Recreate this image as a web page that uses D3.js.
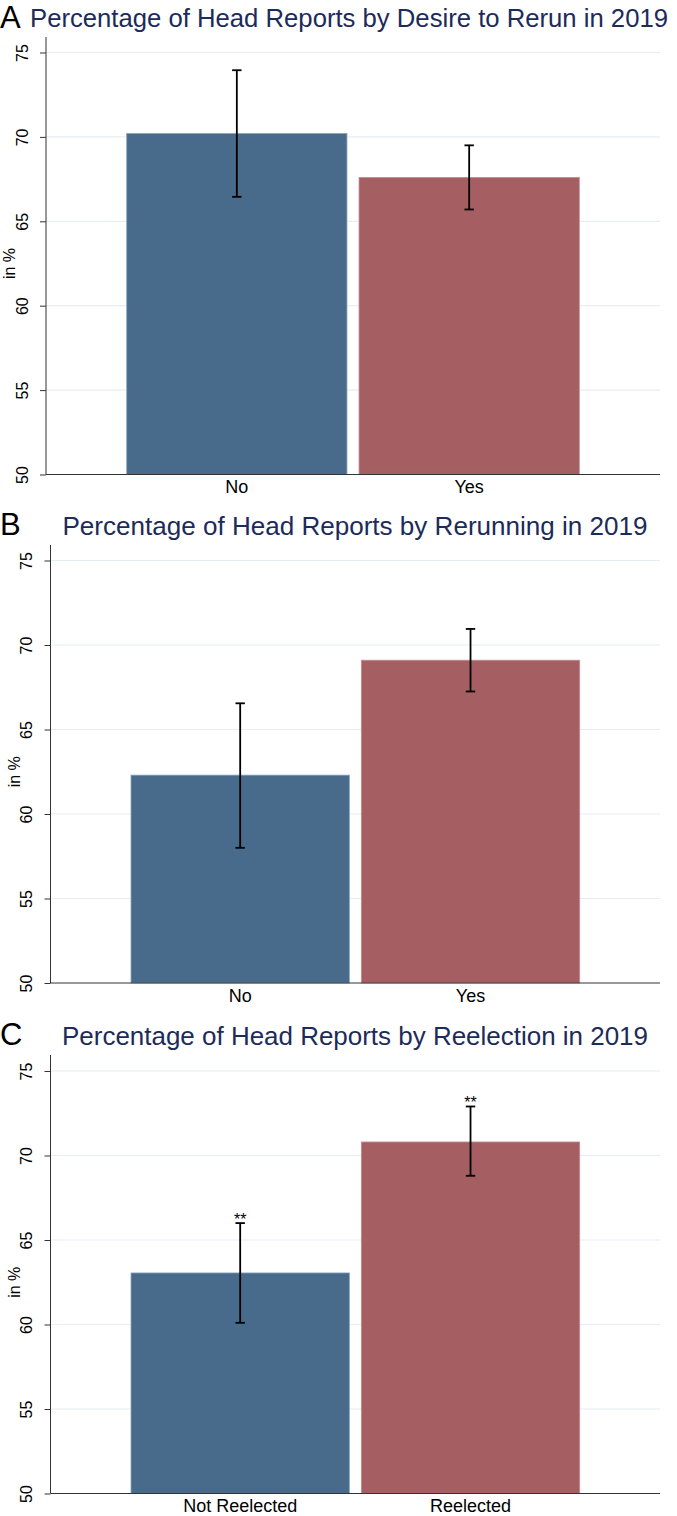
<!DOCTYPE html>
<html><head><meta charset="utf-8">
<script src="https://cdn.jsdelivr.net/npm/d3@7"></script>
<style>html,body{margin:0;padding:0;background:#fff;} svg{display:block;font-family:"Liberation Sans",Arial,Helvetica,sans-serif;}</style>
</head><body>
<svg id="chart" width="677" height="1516"></svg>
<script>
// ---- data ----
const panelLetters = ["A", "B", "C"];
const titles = [
  "Percentage of Head Reports by Desire to Rerun in 2019",
  "Percentage of Head Reports by Rerunning in 2019",
  "Percentage of Head Reports by Reelection in 2019"
];
const categoriesA = ["No", "Yes"];
const categoriesB = ["No", "Yes"];
const categoriesC = ["Not Reelected", "Reelected"];
const meansA = [70.2, 67.6];
const lowA = [66.45, 65.7];
const highA = [73.95, 69.5];
const meansB = [62.3, 69.1];
const lowB = [58.0, 67.25];
const highB = [66.55, 70.95];
const meansC = [63.05, 70.8];
const lowC = [60.1, 68.8];
const highC = [66.0, 72.9];
const starsA = ["", ""];
const starsB = ["", ""];
const starsC = ["**", "**"];
const yTicks = [50, 55, 60, 65, 70, 75];
const yLabel = "in %";
const barColors = ["#486b8b", "#a55e61"];
const barStrokes = ["#8aa3b9", "#c28e90"];

const panels = [
  {letter: panelLetters[0], title: titles[0], cats: categoriesA, means: meansA, low: lowA, high: highA, stars: starsA,
   layout: {axisX: 46, axisTop: 37, y75: 52.5, y50: 474.5, x0: 126.7, x1: 579.3, titleX: 30, titleLen: 638, titleY: 27, letterY: 28, ylabX: 15}},
  {letter: panelLetters[1], title: titles[1], cats: categoriesB, means: meansB, low: lowB, high: highB, stars: starsB,
   layout: {axisX: 50.5, axisTop: 545, y75: 560.5, y50: 983, x0: 131, x1: 579.7, titleX: 62.5, titleLen: 585, titleY: 535, letterY: 535, ylabX: 19.5}},
  {letter: panelLetters[2], title: titles[2], cats: categoriesC, means: meansC, low: lowC, high: highC, stars: starsC,
   layout: {axisX: 50.5, axisTop: 1055, y75: 1071, y50: 1493.5, x0: 131, x1: 579.7, titleX: 62, titleLen: 586, titleY: 1045, letterY: 1045, ylabX: 19.5}}
];

const svg = d3.select("#chart");
const plotRight = 660;

panels.forEach(p => {
  const L = p.layout;
  const axisX = L.axisX;
  const g = svg.append("g");
  const y = d3.scaleLinear().domain([50, 75]).range([L.y50, L.y75]);
  const x = d3.scaleBand().domain(p.cats).range([L.x0, L.x1]).paddingInner(0.052).paddingOuter(0);
  const data = p.cats.map((c, i) => ({c, m: p.means[i], lo: p.low[i], hi: p.high[i], s: p.stars[i], i}));

  // letter + title
  g.append("text").attr("x", 0).attr("y", L.letterY).attr("font-size", 31).attr("fill", "#000").text(p.letter);
  g.append("text").attr("x", L.titleX).attr("y", L.titleY)
    .attr("font-size", 26).attr("fill", "#1c2b5a")
    .attr("textLength", L.titleLen).attr("lengthAdjust", "spacingAndGlyphs").text(p.title);

  // gridlines
  g.append("g").selectAll("line").data(yTicks.filter(t => t > 50)).join("line")
    .attr("x1", axisX).attr("x2", plotRight).attr("y1", d => y(d)).attr("y2", d => y(d))
    .attr("stroke", "#e7eef2").attr("stroke-width", 1.2);

  // bars
  g.append("g").selectAll("rect").data(data).join("rect")
    .attr("x", d => x(d.c)).attr("width", x.bandwidth())
    .attr("y", d => y(d.m)).attr("height", d => y(50) - y(d.m))
    .attr("fill", d => barColors[d.i]).attr("stroke", d => barStrokes[d.i]).attr("stroke-width", 0.8);

  // error bars
  const eb = g.append("g").attr("stroke", "#000").attr("stroke-width", 1.8);
  data.forEach(d => {
    const cx = x(d.c) + x.bandwidth() / 2;
    eb.append("line").attr("x1", cx).attr("x2", cx).attr("y1", y(d.lo)).attr("y2", y(d.hi));
    eb.append("line").attr("x1", cx - 4.7).attr("x2", cx + 4.7).attr("y1", y(d.lo)).attr("y2", y(d.lo));
    eb.append("line").attr("x1", cx - 4.7).attr("x2", cx + 4.7).attr("y1", y(d.hi)).attr("y2", y(d.hi));
  });
  g.append("g").selectAll("text").data(data.filter(d => d.s)).join("text")
    .attr("x", d => x(d.c) + x.bandwidth() / 2).attr("y", d => y(d.hi) + 1.5)
    .attr("text-anchor", "middle").attr("font-size", 16).attr("fill", "#000").text(d => d.s);

  // y axis
  const yAxis = d3.axisLeft(y).tickValues(yTicks).tickSize(6).tickPadding(0).tickFormat(d3.format("d"));
  const ya = g.append("g").attr("transform", `translate(${axisX},0)`).call(yAxis);
  ya.attr("font-family", null).attr("font-size", null);
  ya.select(".domain").remove();
  ya.selectAll(".tick line").attr("stroke", "#333");
  ya.selectAll(".tick text").attr("font-size", 16).attr("fill", "#000")
    .attr("transform", "translate(-24,0) rotate(-90)").attr("x", 0).attr("dy", "0.35em")
    .attr("text-anchor", "middle");
  g.append("line").attr("x1", axisX).attr("x2", axisX).attr("y1", L.axisTop).attr("y2", L.y50)
    .attr("stroke", "#333").attr("stroke-width", 1);

  // x axis
  g.append("line").attr("x1", axisX).attr("x2", plotRight).attr("y1", L.y50).attr("y2", L.y50)
    .attr("stroke", "#333").attr("stroke-width", 1);
  g.append("g").selectAll("text").data(data).join("text")
    .attr("x", d => x(d.c) + x.bandwidth() / 2).attr("y", L.y50 + 18.5)
    .attr("text-anchor", "middle").attr("font-size", 18).attr("fill", "#000").text(d => d.c);

  // y label
  g.append("text").attr("transform", `translate(${L.ylabX},${(L.y50 + L.y75) / 2}) rotate(-90)`)
    .attr("text-anchor", "middle").attr("font-size", 16).attr("fill", "#000").text(yLabel);
});
</script>
</body></html>
